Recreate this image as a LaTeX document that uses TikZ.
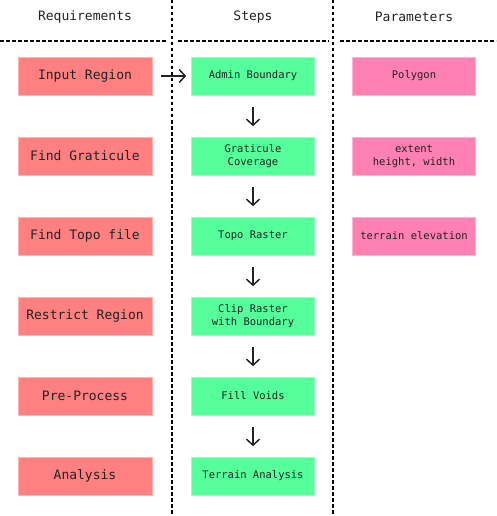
\documentclass[tikz,border=0pt]{standalone}
\usepackage{fontspec}
\setmonofont{DejaVu Sans Mono}
\usetikzlibrary{arrows.meta}
\definecolor{reqred}{RGB}{255, 128, 128}
\definecolor{stepgreen}{RGB}{85, 255, 153}
\definecolor{parpink}{RGB}{255, 128, 178}
\definecolor{ink}{RGB}{35, 35, 35}

\begin{document}
\begin{tikzpicture}[
   x=1pt, y=-1pt,
   header/.style={font=\ttfamily\fontsize{13}{15}\selectfont, text=ink},
   reqbox/.style={fill=reqred, draw=reqred!60!white, line width=0.6,
                  minimum width=134, minimum height=38, text=ink,
                  font=\ttfamily\fontsize{13}{15}\selectfont},
   stepbox/.style={fill=stepgreen, draw=stepgreen!60!white, line width=0.6,
                   minimum width=123, minimum height=38, text=ink, align=center,
                   font=\ttfamily\fontsize{10.5}{13}\selectfont},
   parbox/.style={fill=parpink, draw=parpink!60!white, line width=0.6,
                  minimum width=123, minimum height=38, text=ink, align=center,
                  font=\ttfamily\fontsize{10.5}{13}\selectfont},
   sep/.style={draw=black, line width=1.4, dash pattern=on 3.5 off 2.5},
   flow/.style={draw=ink, line width=1.5, -{Straight Barb[length=6, width=13]}}
  ]

  \useasboundingbox (0, 0) rectangle (496, 516);

  % Column separators
  \draw[sep] (172, 0) -- (172, 516);
  \draw[sep] (333, 0) -- (333, 516);
  \draw[sep] (0, 41) -- (166, 41);
  \draw[sep] (178, 41) -- (329, 41);
  \draw[sep] (340, 41) -- (496, 41);

  \node (h1) at (85, 17) [header] {Requirements};
  \node (h2) at (253, 17) [header] {Steps};
  \node (h3) at (414, 17) [header] {Parameters};

  % Rows
  \foreach \i/\R/\S in {1/Input Region/Admin Boundary,
                        2/Find Graticule/{Graticule\\Coverage},
                        3/Find Topo file/Topo Raster,
                        4/Restrict Region/{Clip Raster\\with Boundary},
                        5/Pre-Process/Fill Voids,
                        6/Analysis/Terrain Analysis} {
    \node (r\i) at (85, 76 + 80 * \i - 80) [reqbox] {\R};
    \node (s\i) at (253, 76 + 80 * \i - 80) [stepbox] {\S};
  }

  \node (p1) at (414, 76) [parbox] {Polygon};
  \node (p2) at (414, 156) [parbox] {extent\\height, width};
  \node (p3) at (414, 236) [parbox] {terrain elevation};

  \draw[flow, shorten <=9, shorten >=5] (r1) -- (s1);
  \foreach \B/\E in {s1/s2, s2/s3, s3/s4, s4/s5, s5/s6} {
    \draw[flow, shorten <=11.5, shorten >=10.5] (\B) -- (\E);
  }

\end{tikzpicture}
\end{document}
